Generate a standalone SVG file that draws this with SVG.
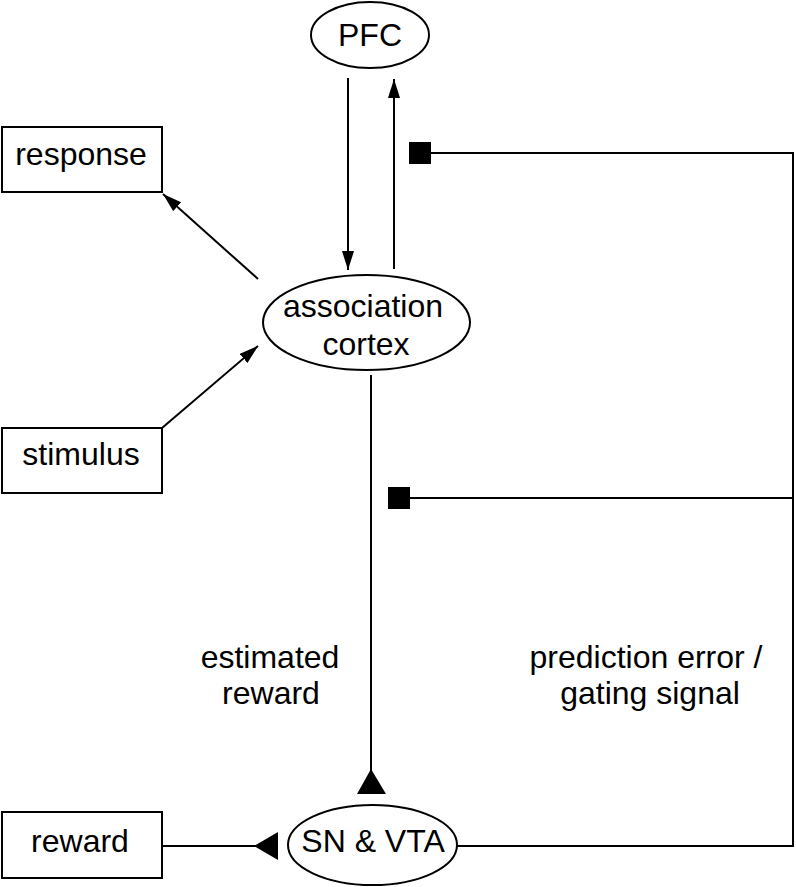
<svg xmlns="http://www.w3.org/2000/svg" width="796" height="887" viewBox="0 0 796 887">
<style>
.shape{fill:#fff;stroke:#000;stroke-width:2}
.ln{fill:none;stroke:#000;stroke-width:2}
text{font-family:"Liberation Sans",Arial,Helvetica,sans-serif;font-size:32px;fill:#000;text-anchor:middle}
.sq,.tri{fill:#000;stroke:none}
</style>
<defs>
<marker id="arr" markerUnits="userSpaceOnUse" markerWidth="22" markerHeight="14" refX="19" refY="6" orient="auto">
<path d="M0,0 L19,6 L0,12 z" fill="#000"/>
</marker>
</defs>
<rect width="796" height="887" fill="#fff"/>
<g id="connectors">
<line class="ln" x1="348" y1="78" x2="348" y2="270" marker-end="url(#arr)"/>
<line class="ln" x1="394" y1="269" x2="394" y2="79" marker-end="url(#arr)"/>
<line class="ln" x1="258" y1="279" x2="163" y2="194" marker-end="url(#arr)"/>
<line class="ln" x1="162" y1="428" x2="258" y2="346" marker-end="url(#arr)"/>
<line class="ln" x1="371" y1="375" x2="371" y2="772"/>
<polygon class="tri" points="371,769 357,794 386,794"/>
<line class="ln" x1="162" y1="846" x2="258" y2="846"/>
<polygon class="tri" points="254,846 278,832 278,860"/>
<polyline class="ln" points="457,846 793,846 793,153 430,153"/>
<line class="ln" x1="793" y1="498" x2="409" y2="498"/>
<rect class="sq" x="409" y="142" width="22" height="22"/>
<rect class="sq" x="388" y="487" width="22" height="22"/>
</g>
<g id="pfc">
<ellipse class="shape" cx="370" cy="35" rx="59" ry="33"/>
<text x="370" y="46">PFC</text>
</g>
<g id="response">
<rect class="shape" x="2" y="127" width="160" height="65"/>
<text x="81" y="165">response</text>
</g>
<g id="association-cortex">
<ellipse class="shape" cx="366.5" cy="322.5" rx="103.5" ry="47.5"/>
<text x="363" y="317">association</text>
<text x="366" y="355">cortex</text>
</g>
<g id="stimulus">
<rect class="shape" x="2" y="428" width="160" height="65"/>
<text x="81" y="465">stimulus</text>
</g>
<g id="label-estimated">
<text x="270" y="668">estimated</text>
<text x="271" y="704">reward</text>
</g>
<g id="label-prediction">
<text x="646" y="668">prediction error /</text>
<text x="650" y="704">gating signal</text>
</g>
<g id="reward">
<rect class="shape" x="2" y="812" width="160" height="66"/>
<text x="80" y="852">reward</text>
</g>
<g id="sn-vta">
<ellipse class="shape" cx="372.5" cy="845" rx="84.5" ry="40"/>
<text x="373" y="852">SN &amp; VTA</text>
</g>
</svg>
